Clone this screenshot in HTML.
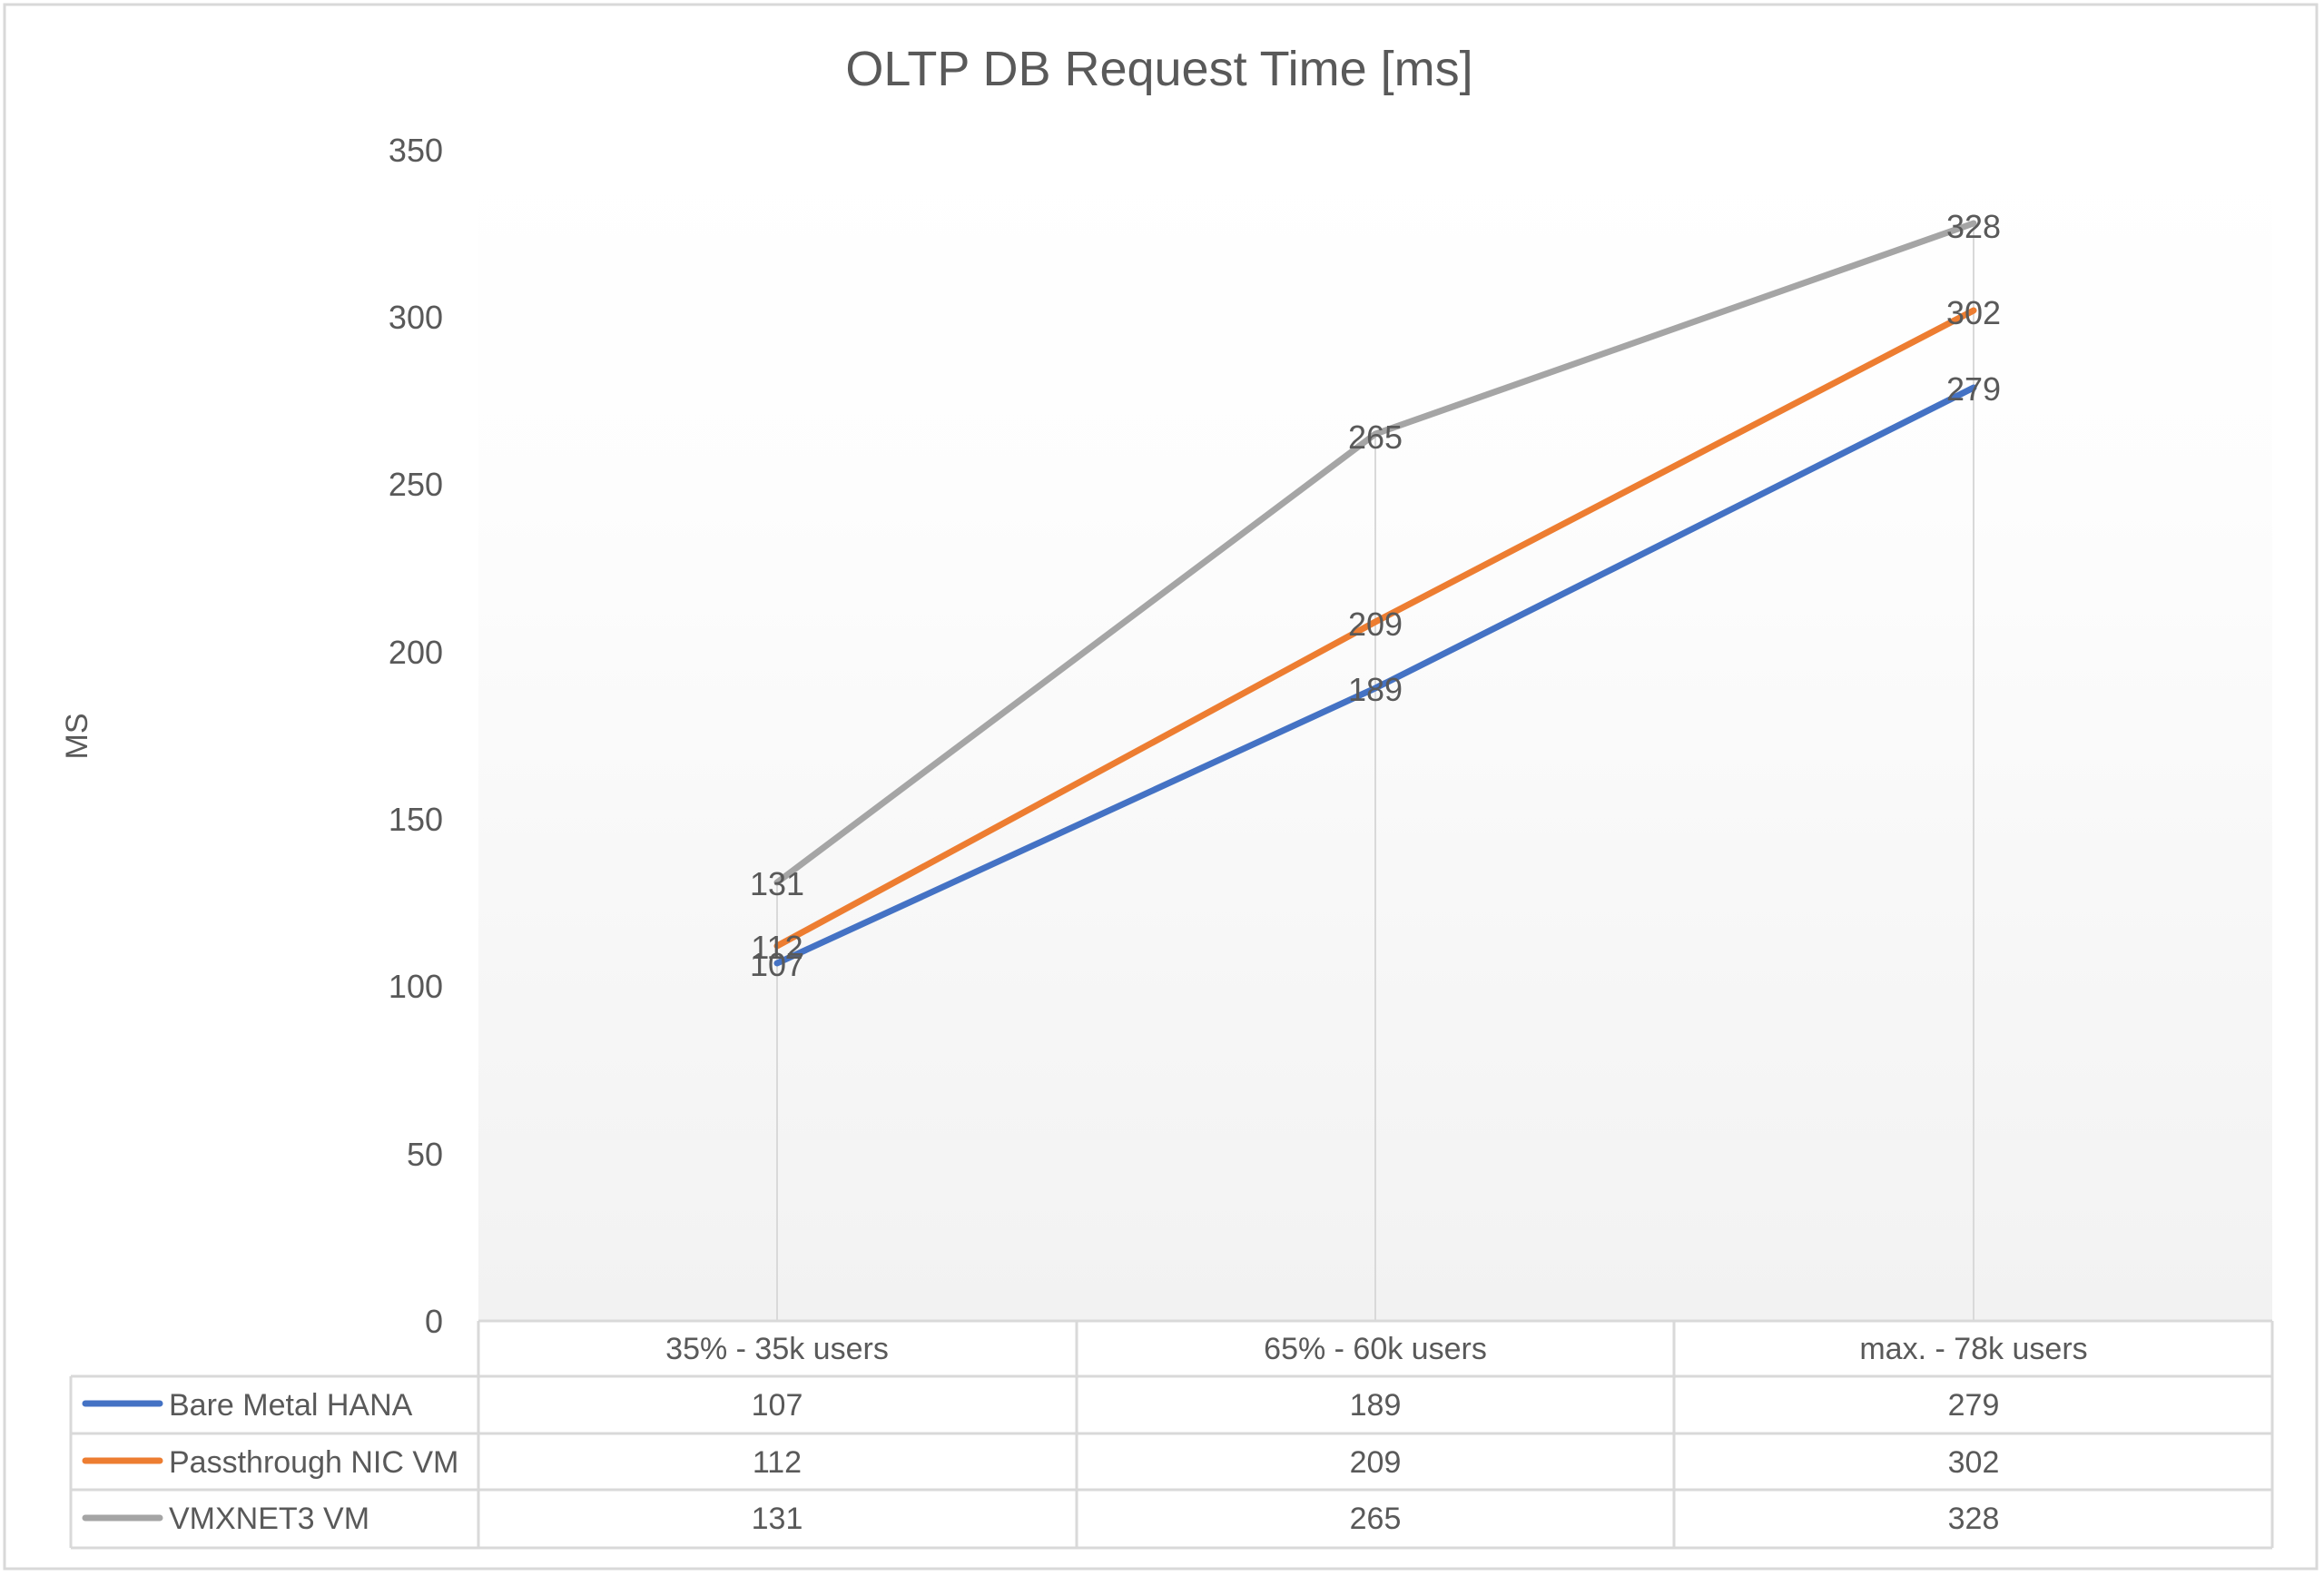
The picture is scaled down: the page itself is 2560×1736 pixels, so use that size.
<!DOCTYPE html>
<html><head><meta charset="utf-8"><style>
html,body{margin:0;padding:0;background:#fff;}
svg{display:block;}
text{font-family:"Liberation Sans Narrow","Liberation Sans",sans-serif;fill:#595959;}
</style></head><body>
<svg width="2560" height="1736" viewBox="0 0 2560 1736" xmlns="http://www.w3.org/2000/svg">
<defs>
<linearGradient id="bg" x1="0" y1="0" x2="0" y2="1">
<stop offset="0" stop-color="#ffffff"/>
<stop offset="0.3" stop-color="#fdfdfd"/>
<stop offset="1" stop-color="#f2f2f2"/>
</linearGradient>
</defs>
<rect x="0" y="0" width="2560" height="1736" fill="#fff"/>
<rect x="5" y="5" width="2547" height="1723" fill="none" stroke="#d9d9d9" stroke-width="3"/>
<text x="1277" y="94" font-size="54" text-anchor="middle" fill="#7f7f7f">OLTP DB Request Time [ms]</text>
<rect x="527" y="165" width="1976" height="1290" fill="url(#bg)"/>
<g stroke="#d9d9d9" stroke-width="2">
<line x1="856" y1="972" x2="856" y2="1455"/>
<line x1="1515" y1="478" x2="1515" y2="1455"/>
<line x1="2174" y1="246" x2="2174" y2="1455"/>
</g>
<g font-size="36" text-anchor="end">
<text x="488" y="178">350</text>
<text x="488" y="362">300</text>
<text x="488" y="546">250</text>
<text x="488" y="731">200</text>
<text x="488" y="915">150</text>
<text x="488" y="1099">100</text>
<text x="488" y="1284">50</text>
<text x="488" y="1468">0</text>
</g>
<text x="0" y="0" font-size="34" text-anchor="middle" transform="translate(96,811) rotate(-90)">MS</text>
<g fill="none" stroke-width="7" stroke-linejoin="round" stroke-linecap="round">
<polyline stroke="#a5a5a5" points="856,972 1515,478 2174,246"/>
<polyline stroke="#ed7d31" points="856,1042 1515,685 2174,342"/>
<polyline stroke="#4472c4" points="856,1061 1515,758 2174,427"/>
</g>
<g font-size="36" text-anchor="middle">
<text x="856" y="986" fill="#404040">131</text>
<text x="856" y="1056" fill="#404040">112</text>
<text x="856" y="1075" fill="#404040">107</text>
<text x="1515" y="494" fill="#404040">265</text>
<text x="1515" y="700" fill="#404040">209</text>
<text x="1515" y="772" fill="#404040">189</text>
<text x="2174" y="262" fill="#404040">328</text>
<text x="2174" y="357" fill="#404040">302</text>
<text x="2174" y="441" fill="#404040">279</text>
</g>
<g stroke="#d9d9d9" stroke-width="3" fill="none">
<line x1="527" y1="1455" x2="2503" y2="1455"/>
<line x1="78" y1="1516" x2="2503" y2="1516"/>
<line x1="78" y1="1579" x2="2503" y2="1579"/>
<line x1="78" y1="1641" x2="2503" y2="1641"/>
<line x1="78" y1="1705" x2="2503" y2="1705"/>
<line x1="78" y1="1516" x2="78" y2="1705"/>
<line x1="527" y1="1455" x2="527" y2="1705"/>
<line x1="1186" y1="1455" x2="1186" y2="1705"/>
<line x1="1844" y1="1455" x2="1844" y2="1705"/>
<line x1="2503" y1="1455" x2="2503" y2="1705"/>
</g>
<g font-size="34" text-anchor="middle">
<text x="856" y="1497">35% - 35k users</text>
<text x="1515" y="1497">65% - 60k users</text>
<text x="2174" y="1497">max. - 78k users</text>
<text x="856" y="1559">107</text>
<text x="1515" y="1559">189</text>
<text x="2174" y="1559">279</text>
<text x="856" y="1622">112</text>
<text x="1515" y="1622">209</text>
<text x="2174" y="1622">302</text>
<text x="856" y="1684">131</text>
<text x="1515" y="1684">265</text>
<text x="2174" y="1684">328</text>
</g>
<g stroke-width="7" stroke-linecap="round">
<line x1="94" y1="1546" x2="176" y2="1546" stroke="#4472c4"/>
<line x1="94" y1="1609" x2="176" y2="1609" stroke="#ed7d31"/>
<line x1="94" y1="1672" x2="176" y2="1672" stroke="#a5a5a5"/>
</g>
<g font-size="34">
<text x="186" y="1559">Bare Metal HANA</text>
<text x="186" y="1622">Passthrough NIC VM</text>
<text x="186" y="1684">VMXNET3 VM</text>
</g>
</svg>
</body></html>
